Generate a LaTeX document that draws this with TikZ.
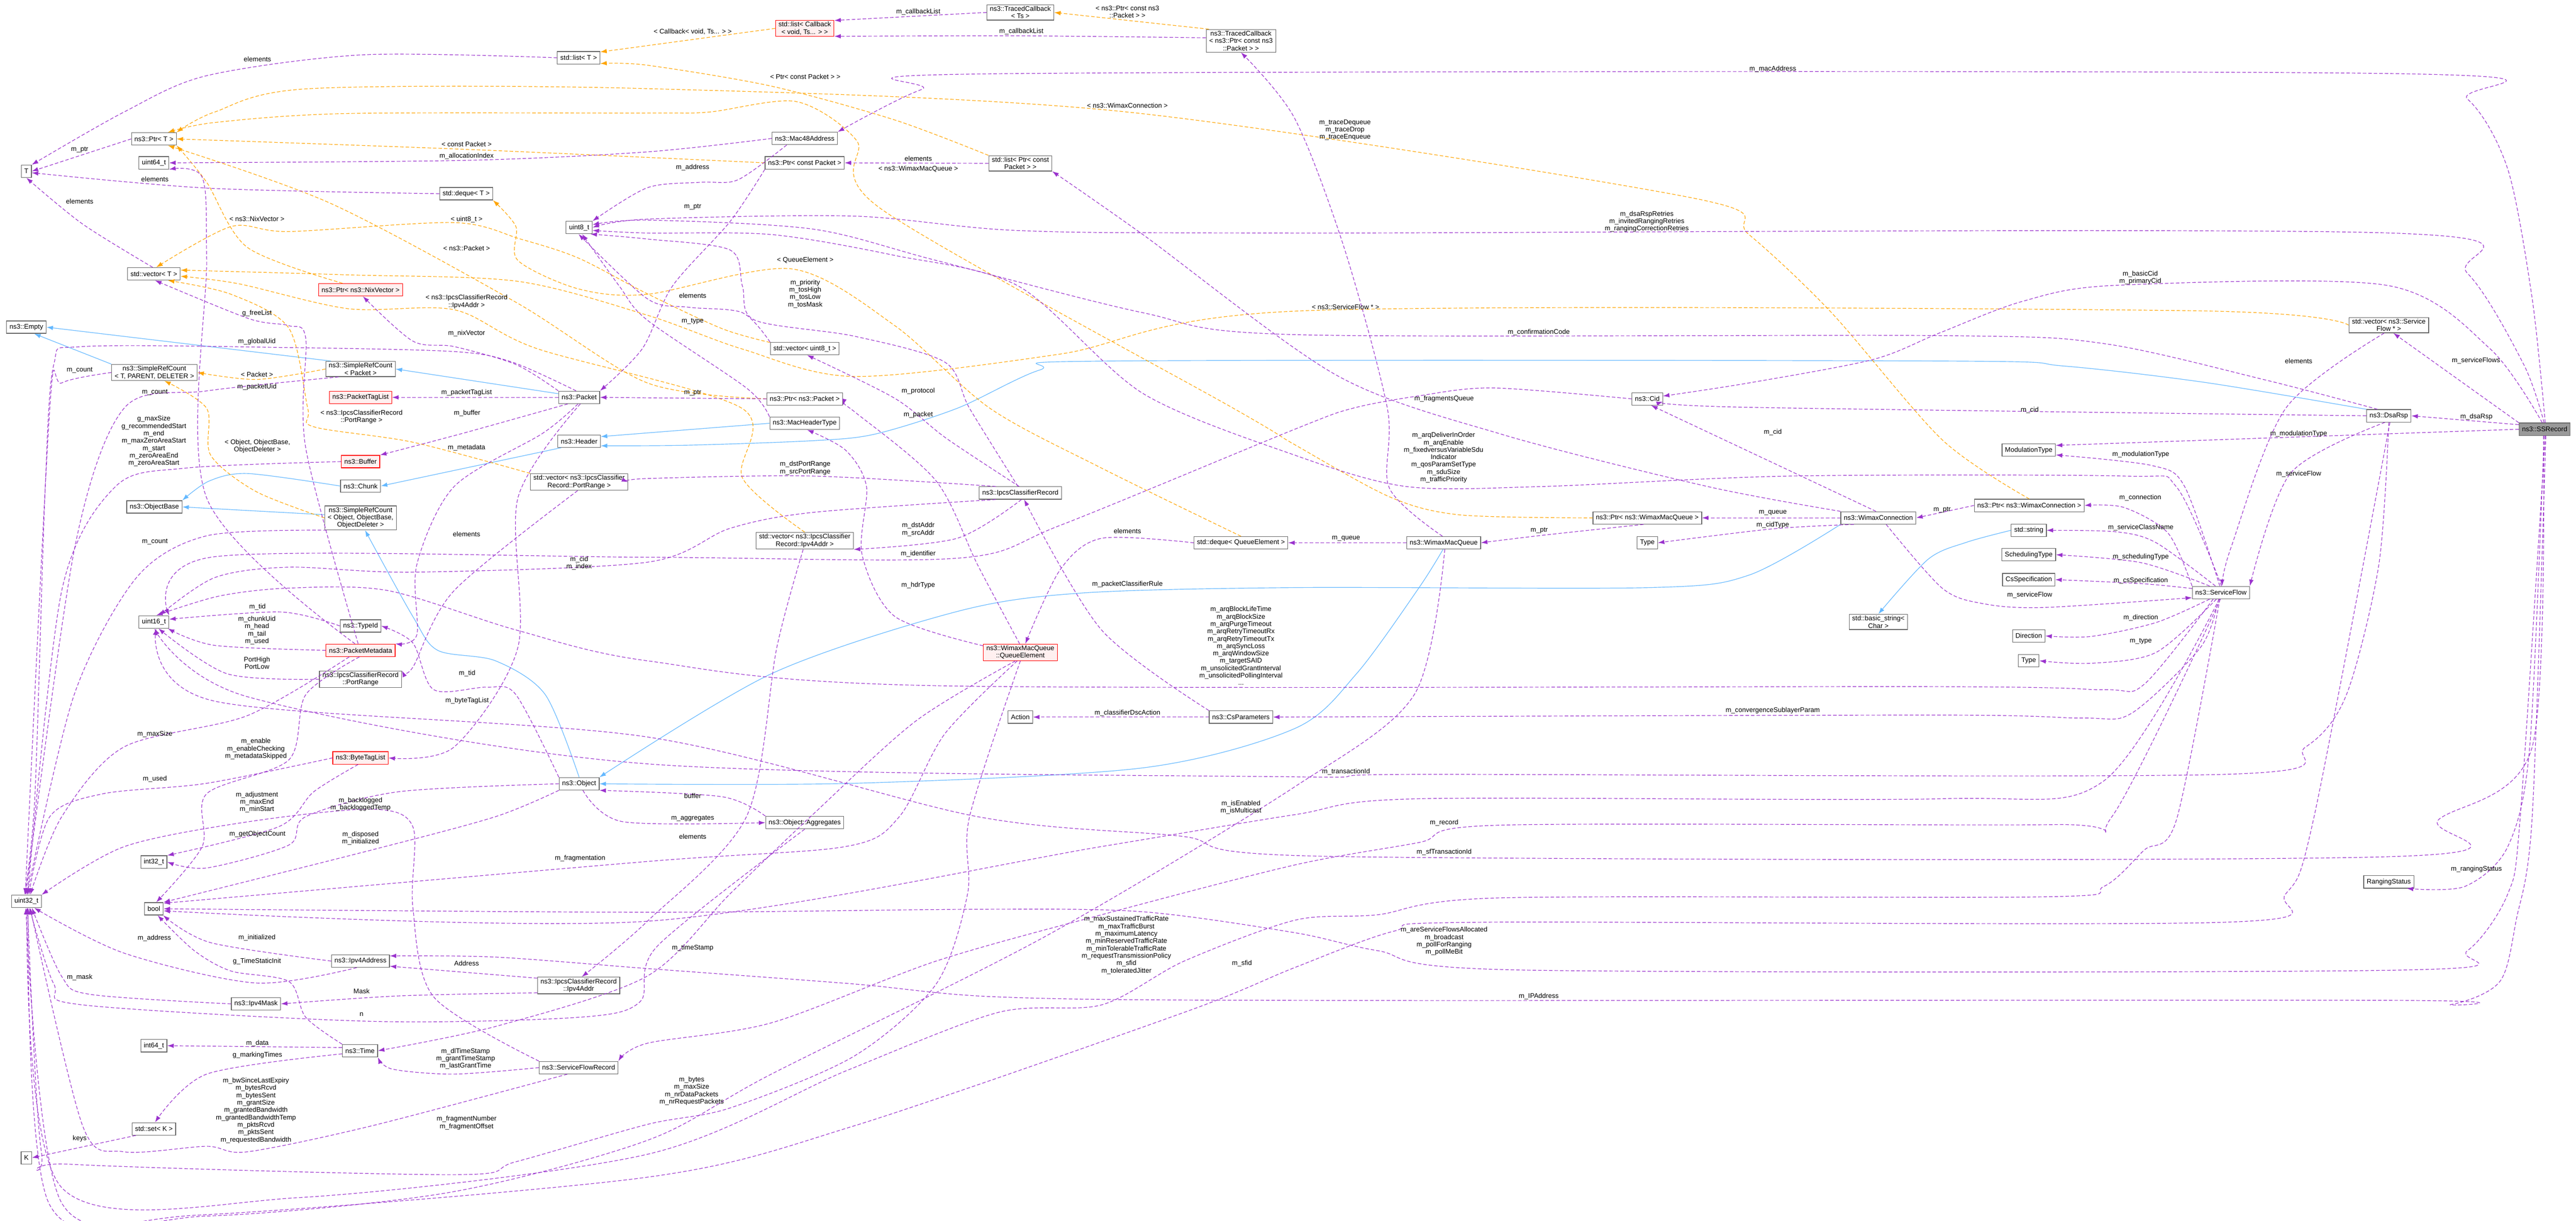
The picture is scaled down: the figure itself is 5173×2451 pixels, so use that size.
\documentclass[tikz,border=0pt]{standalone}
\usepackage{fontspec}
\setmainfont{Liberation Sans}
\usetikzlibrary{arrows.meta}
\definecolor{memc}{HTML}{9A32CD}
\definecolor{tplc}{HTML}{FFA500}
\definecolor{inhc}{HTML}{63B8FF}
\definecolor{boxc}{HTML}{666666}
\definecolor{redfill}{HTML}{FFF0F0}
\definecolor{grayfill}{HTML}{999999}
\newcommand\fs{\fontsize{13.5}{14.8}\selectfont}
\begin{document}
\begin{tikzpicture}[x=1pt,y=-1pt,
 cls/.style={draw=boxc,fill=white,line width=1.3pt,inner xsep=6pt,inner ysep=3pt,minimum height=25pt,font=\fs,align=center},
 redcls/.style={cls,draw=red,fill=redfill},
 graycls/.style={cls,fill=grayfill},
 mem/.style={draw=memc,dash pattern=on 7pt off 4pt,line width=1.2pt,-{Latex[length=13pt,width=9pt]}},
 tpl/.style={draw=tplc,dash pattern=on 7pt off 4pt,line width=1.2pt,-{Latex[length=13pt,width=9pt]}},
 inh/.style={draw=inhc,line width=1.2pt,-{Latex[length=13pt,width=9pt]}},
 lbl/.style={font=\fs,align=center,inner sep=1pt}]
\useasboundingbox (0,0) rectangle (5173,2451);
\fill[white] (0,0) rectangle (5173,2451);
% ---------- nodes
\node[cls] (T) at (53,344) {T};
\node[cls] (listT) at (1162,116) {std::list< T >};
\node[cls] (PtrT) at (309,279) {ns3::Ptr< T >};
\node[cls] (u64) at (309,327) {uint64\_t};
\node[cls] (dequeT) at (936,389) {std::deque< T >};
\node[cls] (u8) at (1163,457) {uint8\_t};
\node[cls] (vecT) at (309,550) {std::vector< T >};
\node[redcls] (PtrNix) at (724,582) {ns3::Ptr< ns3::NixVector >};
\node[cls] (Empty) at (53,657) {ns3::Empty};
\node[cls] (SRCT) at (310,748) {ns3::SimpleRefCount\\< T, PARENT, DELETER >};
\node[cls] (SRCP) at (724,741) {ns3::SimpleRefCount\\< Packet >};
\node[redcls] (PTL) at (724,798) {ns3::PacketTagList};
\node[cls] (Packet) at (1163,798) {ns3::Packet};
\node[redcls] (listCb) at (1616,57) {std::list< Callback\\< void, Ts... > >};
\node[cls] (TCTs) at (2049,25) {ns3::TracedCallback\\< Ts >};
\node[cls] (TCPCP) at (2492,82) {ns3::TracedCallback\\< ns3::Ptr< const ns3\\::Packet > >};
\node[cls] (Mac48) at (1616,278) {ns3::Mac48Address};
\node[cls] (PtrCP) at (1616,327) {ns3::Ptr< const Packet >};
\node[cls] (listPCP) at (2049,328) {std::list< Ptr< const\\Packet > >};
\node[cls] (vecU8) at (1616,700) {std::vector< uint8\_t >};
\node[cls] (PtrP) at (1616,801) {ns3::Ptr< ns3::Packet >};
\node[cls] (Cid) at (3308,801) {ns3::Cid};
\node[cls] (vecSF) at (4797,653) {std::vector< ns3::Service\\Flow * >};
\node[redcls] (Buffer) at (724,927) {ns3::Buffer};
\node[cls] (Header) at (1163,886) {ns3::Header};
\node[cls] (vecPR) at (1163,968) {std::vector< ns3::IpcsClassifier\\Record::PortRange >};
\node[cls] (Chunk) at (724,976) {ns3::Chunk};
\node[cls] (ObjBase) at (310,1018) {ns3::ObjectBase};
\node[cls] (SRCO) at (724,1040) {ns3::SimpleRefCount\\< Object, ObjectBase,\\ObjectDeleter >};
\node[cls] (u16) at (309,1249) {uint16\_t};
\node[cls] (TypeId) at (724,1257) {ns3::TypeId};
\node[redcls] (PM) at (724,1306) {ns3::PacketMetadata};
\node[cls] (PR) at (724,1364) {ns3::IpcsClassifierRecord\\::PortRange};
\node[redcls] (BTL) at (724,1522) {ns3::ByteTagList};
\node[cls] (Object) at (1163,1574) {ns3::Object};
\node[cls] (MHT) at (1616,850) {ns3::MacHeaderType};
\node[cls] (IpcsCR) at (2049,990) {ns3::IpcsClassifierRecord};
\node[cls] (vecIA) at (1616,1086) {std::vector< ns3::IpcsClassifier\\Record::Ipv4Addr >};
\node[cls] (dequeQE) at (2492,1090) {std::deque< QueueElement >};
\node[redcls] (QE) at (2049,1310) {ns3::WimaxMacQueue\\::QueueElement};
\node[cls] (Action) at (2049,1440) {Action};
\node[cls] (CsP) at (2492,1440) {ns3::CsParameters};
\node[cls] (PtrWMQ) at (3308,1040) {ns3::Ptr< ns3::WimaxMacQueue >};
\node[cls] (WC) at (3772,1040) {ns3::WimaxConnection};
\node[cls] (WMQ) at (2899,1090) {ns3::WimaxMacQueue};
\node[cls] (TypeA) at (3308,1090) {Type};
\node[cls] (bstr) at (3772,1249) {std::basic\_string<\\Char >};
\node[cls] (DsaRsp) at (4797,835) {ns3::DsaRsp};
\node[graycls] (SSR) at (5110,862) {ns3::SSRecord};
\node[cls] (ModT) at (4074,904) {ModulationType};
\node[cls] (PtrWC) at (4075,1015) {ns3::Ptr< ns3::WimaxConnection >};
\node[cls] (stdstr) at (4074,1065) {std::string};
\node[cls] (SchedT) at (4074,1114) {SchedulingType};
\node[cls] (CsSpec) at (4074,1164) {CsSpecification};
\node[cls] (SF) at (4460,1190) {ns3::ServiceFlow};
\node[cls] (Dir) at (4074,1277) {Direction};
\node[cls] (TypeB) at (4074,1327) {Type};
\node[cls] (RS) at (4797,1771) {RangingStatus};
\node[cls] (u32) at (53,1810) {uint32\_t};
\node[cls] (i32) at (309,1731) {int32\_t};
\node[cls] (boolN) at (309,1825) {bool};
\node[cls] (Ipv4A) at (724,1930) {ns3::Ipv4Address};
\node[cls] (Ipv4Addr) at (1162,1979) {ns3::IpcsClassifierRecord\\::Ipv4Addr};
\node[cls] (Ipv4M) at (514,2016) {ns3::Ipv4Mask};
\node[cls] (i64) at (309,2100) {int64\_t};
\node[cls] (Time) at (723,2110) {ns3::Time};
\node[cls] (SFR) at (1162,2144) {ns3::ServiceFlowRecord};
\node[cls] (setK) at (309,2267) {std::set< K >};
\node[cls] (K) at (53,2325) {K};
\node[cls] (Aggr) at (1616,1652) {ns3::Object::Aggregates};
% ---------- inheritance
\draw[inh] (SRCP.165) -- (Empty.east);
\draw[inh] (SRCT.north west) -- (Empty.-40);
\draw[inh] (Packet.170) -- (SRCP.east);
\draw[inh] plot[smooth] coordinates {(Chunk.west) (498,951) (420,966) (ObjBase.north east)};
\draw[inh] (SRCO.175) -- (ObjBase.east);
\draw[inh] (Header.200) -- (Chunk.east);
\draw[inh] (MHT.west) -- (Header.12);
\draw[inh] plot[smooth] coordinates {(DsaRsp.north west) (4428,768) (4144,735) (3900,725) (2230,725) (2088,743) (1922,820) (1756,872) (1632,885) (1383,894) (Header.-12)};
\draw[inh] plot[smooth] coordinates {(Object.north) (1095,1395) (995,1327) (879,1306) (829,1238) (SRCO.-70)};
\draw[inh] plot[smooth] coordinates {(WC.south west) (3512,1155) (3313,1180) (2600,1180) (2171,1191) (1922,1228) (1549,1353) (Object.north east)};
\draw[inh] plot[smooth] coordinates {(WMQ.-95) (2849,1181) (2724,1353) (2600,1463) (2295,1542) (1715,1573) (Object.east)};
\draw[inh] plot[smooth] coordinates {(stdstr.west) (3949,1089) (3872,1123) (bstr.north)};
% ---------- template instances
\draw[tpl] (listCb.west) -- (listT.15);
\draw[tpl] plot[smooth] coordinates {(listPCP.north west) (1797,241) (1549,173) (1300,131) (listT.-15)};
\draw[tpl] (TCPCP.160) -- (TCTs.east);
\draw[tpl] plot[smooth] coordinates {(PtrCP.west) (937,300) (PtrT.east)};
\draw[tpl] plot[smooth] coordinates {(PtrWC.north) (3900,883) (3678,628) (3512,471) (3396,397) (2264,225) (1300,178) (622,178) (431,225) (PtrT.north east)};
\draw[tpl] plot[smooth] coordinates {(PtrWMQ.west) (2932,1034) (2791,998) (2600,893) (2477,820) (1770,420) (1720,282) (1599,204) (1424,225) (1300,227) (696,228) (431,246) (PtrT.25)};
\draw[tpl] plot[smooth] coordinates {(PtrP.west) (1300,769) (1036,607) (663,408) (PtrT.-25)};
\draw[tpl] plot[smooth] coordinates {(PtrNix.160) (497,497) (415,366) (PtrT.south east)};
\draw[tpl] plot[smooth] coordinates {(vecU8.170) (1450,660) (1300,590) (1161,518) (1045,480) (912,447) (580,465) (464,455) (vecT.70)};
\draw[tpl] plot[smooth] coordinates {(vecPR.north west) (829,888) (630,857) (618,820) (580,659) (464,591) (vecT.-25)};
\draw[tpl] plot[smooth] coordinates {(vecIA.north) (1491,960) (1490,820) (1078,700) (912,622) (700,620) (480,570) (vecT.-5)};
\draw[tpl] plot[smooth] coordinates {(vecSF.west) (4400,624) (2620,624) (2129,711) (1715,756) (1491,701) (1300,633) (1040,565) (700,552) (vecT.8)};
\draw[tpl] plot[smooth] coordinates {(dequeQE.north) (2212,940) (1988,820) (1797,654) (1590,540) (1300,591) (1161,580) (1040,523) (1036,455) (dequeT.south east)};
\draw[tpl] plot[smooth] coordinates {(SRCP.west) (516,762) (SRCT.east)};
\draw[tpl] plot[smooth] coordinates {(SRCO.west) (514,987) (423,914) (415,820) (SRCT.-40)};
% ---------- members
\draw[mem] plot[smooth] coordinates {(listT.west) (730,110) (415,152) (249,225) (T.north east)};
\draw[mem] (PtrT.west) -- (T.east);
\draw[mem] plot[smooth] coordinates {(dequeT.west) (420,378) (T.-15)};
\draw[mem] plot[smooth] coordinates {(vecT.100) (166,450) (T.south)};
\draw[mem] plot[smooth] coordinates {(Mac48.west) (1300,305) (937,322) (u64.east)};
\draw[mem] plot[smooth] coordinates {(Mac48.200) (1482,361) (1408,366) (1300,377) (u8.north east)};
\draw[mem] plot[smooth] coordinates {(PM.130) (415,1000) (415,523) (406,356) (u64.south east)};
\draw[mem] (Packet.west) -- (PTL.east);
\draw[mem] plot[smooth] coordinates {(Packet.210) (930,870) (Buffer.north east)};
\draw[mem] plot[smooth] coordinates {(Packet.-100) (1090,870) (912,977) (837,1134) (837,1275) (PM.north east)};
\draw[mem] plot[smooth] coordinates {(Packet.-80) (1040,1000) (1040,1300) (912,1500) (BTL.east)};
\draw[mem] plot[smooth] coordinates {(Packet.north west) (1036,732) (912,696) (829,685) (PtrNix.-70)};
\draw[mem] plot[smooth] coordinates {(Packet.115) (1028,727) (912,706) (580,698) (166,696) (108,732) (90,1000) (70,1600) (u32.105)};
\draw[mem] (PtrP.west) -- (Packet.east);
\draw[mem] plot[smooth] coordinates {(PtrCP.south west) (1466,445) (1350,575) (1290,700) (Packet.north east)};
\draw[mem] (listPCP.west) -- (PtrCP.east);
\draw[mem] (TCTs.west) -- (listCb.15);
\draw[mem] plot[smooth] coordinates {(TCPCP.175) (2051,72) (listCb.-15)};
\draw[mem] plot[smooth] coordinates {(WMQ.100) (2790,980) (2786,820) (2700,500) (2600,238) (TCPCP.south)};
\draw[mem] (WMQ.west) -- (dequeQE.east);
\draw[mem] plot[smooth] coordinates {(PtrWMQ.-120) (3097,1075) (WMQ.east)};
\draw[mem] (WC.west) -- (PtrWMQ.east);
\draw[mem] plot[smooth] coordinates {(WC.-165) (3560,1062) (TypeA.east)};
\draw[mem] (WC.110) -- (Cid.-60);
\draw[mem] plot[smooth] coordinates {(WC.north west) (3429,977) (3015,872) (2683,753) (2295,471) (listPCP.south east)};
\draw[mem] plot[smooth] coordinates {(WC.-40) (3900,1181) (3981,1212) (4103,1220) (SF.190)};
\draw[mem] (PtrWC.west) -- (WC.east);
\draw[mem] plot[smooth] coordinates {(SF.north west) (4354,1071) (4265,1019) (PtrWC.east)};
\draw[mem] plot[smooth] coordinates {(SF.100) (4387,977) (4322,935) (ModT.-10)};
\draw[mem] (SSR.west) -- (ModT.10);
\draw[mem] plot[smooth] coordinates {(SF.130) (4330,1090) (4250,1068) (stdstr.east)};
\draw[mem] plot[smooth] coordinates {(SF.150) (4300,1130) (SchedT.east)};
\draw[mem] plot[smooth] coordinates {(SF.172) (4300,1172) (CsSpec.east)};
\draw[mem] plot[smooth] coordinates {(SF.-150) (4330,1250) (4200,1278) (Dir.east)};
\draw[mem] plot[smooth] coordinates {(SF.-125) (4330,1310) (4200,1332) (TypeB.east)};
\draw[mem] plot[smooth] coordinates {(DsaRsp.-120) (4600,950) (SF.north east)};
\draw[mem] plot[smooth] coordinates {(vecSF.-120) (4590,820) (4480,1100) (SF.80)};
\draw[mem] (SSR.north west) -- (vecSF.-60);
\draw[mem] (SSR.170) -- (DsaRsp.east);
\draw[mem] plot[smooth] coordinates {(DsaRsp.west) (3512,818) (Cid.-10)};
\draw[mem] plot[smooth] coordinates {(SSR.85) (5085,600) (5036,340) (4955,199) (4817,148) (2013,148) (1850,180) (Mac48.north east)};
\draw[mem] plot[smooth] coordinates {(SSR.95) (5068,732) (4955,549) (4801,468) (2600,468) (2046,463) (1715,434) (1300,440) (u8.east)};
\draw[mem] plot[smooth] coordinates {(SSR.110) (5000,700) (4793,573) (4249,573) (4062,605) (3894,669) (3761,722) (3512,769) (Cid.10)};
\draw[mem] plot[smooth] coordinates {(SSR.-95) (5080,1500) (5036,1700) (4950,1780) (RS.-20)};
\draw[mem] plot[smooth] coordinates {(SSR.-100) (5085,1500) (4898,1645) (4809,1720) (2683,1720) (2370,1679) (1963,1640) (1300,1480) (431,1408) (u16.-70)};
\draw[mem] plot[smooth] coordinates {(SSR.-85) (5061,1640) (5036,1795) (4955,1909) (4825,1948) (3056,1948) (2766,1909) (2600,1873) (2295,1831) (1963,1826) (1300,1832) (boolN.east)};
\draw[mem] plot[smooth] coordinates {(SSR.-80) (5085,1640) (5053,1847) (5020,1971) (4923,2017) (4809,2009) (2600,2009) (2005,2002) (1715,1976) (1300,1945) (995,1922) (Ipv4A.10)};
\draw[mem] plot[smooth] coordinates {(DsaRsp.150) (4549,763) (4225,690) (3900,674) (2600,672) (2295,628) (1880,523) (1632,460) (1300,442) (u8.12)};
\draw[mem] plot[smooth] coordinates {(SF.85) (4370,977) (4265,956) (3595,956) (3097,977) (2824,977) (2600,914) (2295,790) (2046,575) (1797,513) (1549,471) (1300,468) (u8.-12)};
\draw[mem] plot[smooth] coordinates {(MHT.north west) (1500,780) (1300,643) (1244,575) (u8.-65)};
\draw[mem] plot[smooth] coordinates {(vecU8.north west) (1491,628) (1383,617) (1300,600) (u8.-95)};
\draw[mem] plot[smooth] coordinates {(IpcsCR.110) (1947,820) (1897,727) (1715,675) (1516,643) (1491,575) (1466,502) (1300,480) (u8.-30)};
\draw[mem] plot[smooth] coordinates {(IpcsCR.100) (1900,880) (1797,800) (vecU8.-70)};
\draw[mem] plot[smooth] coordinates {(IpcsCR.165) (1632,956) (1300,961) (vecPR.east)};
\draw[mem] plot[smooth] coordinates {(IpcsCR.-80) (1922,1081) (vecIA.-10)};
\draw[mem] plot[smooth] coordinates {(IpcsCR.195) (1632,1029) (1466,1061) (1300,1129) (829,1149) (580,1139) (431,1160) (u16.50)};
\draw[mem] plot[smooth] coordinates {(Cid.west) (2998,779) (2849,795) (2716,820) (2600,862) (2129,1055) (1922,1121) (1300,1119) (431,1118) (u16.north east)};
\draw[mem] plot[smooth] coordinates {(PR.west) (456,1353) (u16.-55)};
\draw[mem] plot[smooth] coordinates {(PM.west) (431,1296) (u16.-25)};
\draw[mem] plot[smooth] coordinates {(TypeId.west) (564,1229) (u16.10)};
\draw[mem] plot[smooth] coordinates {(vecPR.-100) (912,1186) (829,1340) (PR.north east)};
\draw[mem] plot[smooth] coordinates {(Object.north west) (1036,1395) (978,1380) (871,1385) (829,1291) (TypeId.east)};
\draw[mem] plot[smooth] coordinates {(SF.-140) (4306,1374) (4225,1385) (3900,1379) (1880,1377) (1300,1327) (1036,1265) (779,1186) (580,1181) (440,1197) (u16.70)};
\draw[mem] plot[smooth] coordinates {(DsaRsp.-90) (4777,1134) (4712,1395) (4630,1500) (4468,1555) (2849,1555) (2600,1560) (1300,1534) (500,1400) (u16.-85)};
\draw[mem] plot[smooth] coordinates {(SF.-110) (4419,1300) (4281,1432) (4184,1442) (3900,1436) (CsP.east)};
\draw[mem] (CsP.west) -- (Action.east);
\draw[mem] plot[smooth] coordinates {(CsP.north west) (2212,1265) (IpcsCR.-60)};
\draw[mem] plot[smooth] coordinates {(dequeQE.west) (2212,1081) (2129,1144) (QE.60)};
\draw[mem] plot[smooth] coordinates {(QE.170) (1797,1238) (1731,1113) (1740,977) (1698,904) (MHT.-70)};
\draw[mem] plot[smooth] coordinates {(QE.95) (1963,1134) (1880,966) (1720,830) (PtrP.south east)};
\draw[mem] plot[smooth] coordinates {(QE.-120) (1839,1448) (1632,1636) (1466,1795) (1300,1960) (1000,2060) (Time.east)};
\draw[mem] plot[smooth] coordinates {(QE.-110) (1897,1474) (1806,1640) (1698,1700) (1300,1730) (boolN.30)};
\draw[mem] plot[smooth] coordinates {(QE.-90) (1947,1640) (1943,1795) (1880,1976) (1715,2121) (1466,2225) (1300,2258) (1036,2333) (912,2359) (141,2338) (83,2312) (u32.-80)};
\draw[mem] plot[smooth] coordinates {(WMQ.-80) (2840,1395) (2600,1580) (2100,1880) (1549,2157) (1300,2290) (900,2395) (415,2442) (124,2416) (u32.-95)};
\draw[mem] plot[smooth] coordinates {(SF.-100) (4371,1645) (4306,1707) (4225,1780) (4103,1801) (3015,1803) (2766,1837) (2600,1848) (2378,1930) (2212,2018) (2005,2033) (1700,2150) (1300,2318) (600,2405) (124,2385) (u32.-85)};
\draw[mem] plot[smooth] coordinates {(DsaRsp.-80) (4647,1640) (4590,1795) (4468,1852) (2973,1852) (2799,1870) (2600,1943) (2378,2033) (1715,2261) (1300,2364) (400,2440) (100,2420) (u32.-75)};
\draw[mem] plot[smooth] coordinates {(SF.-95) (4241,1640) (4127,1656) (3015,1657) (2849,1692) (2600,1737) (2212,1837) (1880,1930) (1549,2054) (1300,2095) (SFR.north east)};
\draw[mem] plot[smooth] coordinates {(SF.-105) (4225,1568) (3900,1604) (2849,1604) (2600,1636) (2212,1700) (1300,1850) (boolN.-12)};
\draw[mem] plot[smooth] coordinates {(SFR.west) (912,2157) (788,2147) (Time.south east)};
\draw[mem] plot[smooth] coordinates {(SFR.-150) (746,2261) (497,2313) (415,2302) (249,2313) (166,2261) (u32.-60)};
\draw[mem] plot[smooth] coordinates {(SFR.north west) (871,2002) (829,1821) (829,1660) (746,1625) (500,1650) (250,1700) (u32.north east)};
\draw[mem] (Time.170) -- (i64.east);
\draw[mem] plot[smooth] coordinates {(Time.190) (415,2157) (setK.80)};
\draw[mem] plot[smooth] coordinates {(Time.north west) (614,2043) (580,1971) (464,1950) (390,1909) (boolN.-60)};
\draw[mem] (setK.200) -- (K.east);
\draw[mem] plot[smooth] coordinates {(Ipv4A.west) (423,1893) (boolN.-35)};
\draw[mem] plot[smooth] coordinates {(Ipv4A.-120) (514,1974) (249,1914) (u32.-40)};
\draw[mem] (Ipv4Addr.170) -- (Ipv4A.-10);
\draw[mem] plot[smooth] coordinates {(Ipv4Addr.190) (800,2000) (Ipv4M.east)};
\draw[mem] plot[smooth] coordinates {(Ipv4M.west) (182,1997) (124,1961) (u32.-50)};
\draw[mem] plot[smooth] coordinates {(vecIA.-100) (1560,1300) (1499,1640) (1300,1850) (Ipv4Addr.70)};
\draw[mem] plot[smooth] coordinates {(Aggr.north west) (1450,1600) (Object.south east)};
\draw[mem] plot[smooth] coordinates {(Object.-60) (1250,1650) (Aggr.west)};
\draw[mem] plot[smooth] coordinates {(Aggr.south) (1320,1900) (1285,2012) (1161,2043) (746,2051) (166,2018) (108,1976) (u32.-65)};
\draw[mem] plot[smooth] coordinates {(Object.south west) (995,1640) (746,1707) (boolN.north east)};
\draw[mem] plot[smooth] coordinates {(Object.west) (800,1590) (614,1640) (580,1697) (415,1743) (i32.east)};
\draw[mem] plot[smooth] coordinates {(BTL.-110) (630,1590) (560,1660) (i32.north east)};
\draw[mem] plot[smooth] coordinates {(BTL.west) (415,1573) (207,1594) (100,1640) (u32.70)};
\draw[mem] plot[smooth] coordinates {(PM.-150) (497,1437) (249,1500) (124,1640) (u32.60)};
\draw[mem] plot[smooth] coordinates {(PM.-100) (614,1395) (580,1526) (415,1594) (406,1700) (boolN.70)};
\draw[mem] plot[smooth] coordinates {(Buffer.west) (373,940) (232,977) (124,1186) (u32.80)};
\draw[mem] plot[smooth] coordinates {(SRCT.west) (124,769) (100,820) (u32.100)};
\draw[mem] plot[smooth] coordinates {(SRCO.200) (415,1076) (274,1160) (149,1395) (u32.85)};
\draw[mem] plot[smooth] coordinates {(SRCP.200) (415,785) (249,820) (150,1100) (u32.95)};
\draw[mem] plot[smooth] coordinates {(PM.110) (614,900) (614,680) (580,654) (500,640) (vecT.-80)};
% ---------- labels
\node[lbl] at (517,119) {elements};
\node[lbl] at (160,301) {m\_ptr};
\node[lbl] at (937,290) {< const Packet >};
\node[lbl] at (937,314) {m\_allocationIndex};
\node[lbl] at (311,360) {elements};
\node[lbl] at (160,404) {elements};
\node[lbl] at (516,440) {< ns3::NixVector >};
\node[lbl] at (937,441) {< uint8\_t >};
\node[lbl] at (937,498) {< ns3::Packet >};
\node[lbl] at (937,606) {< ns3::IpcsClassifierRecord\\::Ipv4Addr >};
\node[lbl] at (516,629) {g\_freeList};
\node[lbl] at (937,669) {m\_nixVector};
\node[lbl] at (516,686) {m\_globalUid};
\node[lbl] at (160,743) {m\_count};
\node[lbl] at (516,752) {< Packet >};
\node[lbl] at (516,777) {m\_packetUid};
\node[lbl] at (311,788) {m\_count};
\node[lbl] at (937,789) {m\_packetTagList};
\node[lbl] at (1391,64) {< Callback< void, Ts... > >};
\node[lbl] at (1844,24) {m\_callbackList};
\node[lbl] at (2264,24) {< ns3::Ptr< const ns3\\::Packet > >};
\node[lbl] at (2051,63) {m\_callbackList};
\node[lbl] at (1617,154) {< Ptr< const Packet > >};
\node[lbl] at (2264,212) {< ns3::WimaxConnection >};
\node[lbl] at (1391,336) {m\_address};
\node[lbl] at (1844,319) {elements};
\node[lbl] at (1844,339) {< ns3::WimaxMacQueue >};
\node[lbl] at (1391,416) {m\_ptr};
\node[lbl] at (1617,522) {< QueueElement >};
\node[lbl] at (1617,590) {m\_priority\\m\_tosHigh\\m\_tosLow\\m\_tosMask};
\node[lbl] at (1391,594) {elements};
\node[lbl] at (1391,645) {m\_type};
\node[lbl] at (1844,785) {m\_protocol};
\node[lbl] at (1391,789) {m\_ptr};
\node[lbl] at (3560,139) {m\_macAddress};
\node[lbl] at (2701,261) {m\_traceDequeue\\m\_traceDrop\\m\_traceEnqueue};
\node[lbl] at (3307,445) {m\_dsaRspRetries\\m\_invitedRangingRetries\\m\_rangingCorrectionRetries};
\node[lbl] at (2702,616) {< ns3::ServiceFlow * >};
\node[lbl] at (3090,667) {m\_confirmationCode};
\node[lbl] at (2900,801) {m\_fragmentsQueue};
\node[lbl] at (4298,558) {m\_basicCid\\m\_primaryCid};
\node[lbl] at (4616,725) {elements};
\node[lbl] at (4972,724) {m\_serviceFlows};
\node[lbl] at (309,886) {g\_maxSize\\g\_recommendedStart\\m\_end\\m\_maxZeroAreaStart\\m\_start\\m\_zeroAreaEnd\\m\_zeroAreaStart};
\node[lbl] at (726,837) {< ns3::IpcsClassifierRecord\\::PortRange >};
\node[lbl] at (938,830) {m\_buffer};
\node[lbl] at (517,896) {< Object, ObjectBase,\\ObjectDeleter >};
\node[lbl] at (937,899) {m\_metadata};
\node[lbl] at (311,1088) {m\_count};
\node[lbl] at (937,1073) {elements};
\node[lbl] at (1163,1131) {m\_cid\\m\_index};
\node[lbl] at (517,1219) {m\_tid};
\node[lbl] at (516,1266) {m\_chunkUid\\m\_head\\m\_tail\\m\_used};
\node[lbl] at (516,1331) {PortHigh\\PortLow};
\node[lbl] at (938,1352) {m\_tid};
\node[lbl] at (938,1407) {m\_byteTagList};
\node[lbl] at (311,1474) {m\_maxSize};
\node[lbl] at (514,1504) {m\_enable\\m\_enableChecking\\m\_metadataSkipped};
\node[lbl] at (311,1564) {m\_used};
\node[lbl] at (516,1611) {m\_adjustment\\m\_maxEnd\\m\_minStart};
\node[lbl] at (724,1615) {m\_backlogged\\m\_backloggedTemp};
\node[lbl] at (1844,833) {m\_packet};
\node[lbl] at (1617,940) {m\_dstPortRange\\m\_srcPortRange};
\node[lbl] at (1844,1063) {m\_dstAddr\\m\_srcAddr};
\node[lbl] at (2264,1067) {elements};
\node[lbl] at (1844,1112) {m\_identifier};
\node[lbl] at (1844,1175) {m\_hdrType};
\node[lbl] at (2264,1173) {m\_packetClassifierRule};
\node[lbl] at (2492,1297) {m\_arqBlockLifeTime\\m\_arqBlockSize\\m\_arqPurgeTimeout\\m\_arqRetryTimeoutRx\\m\_arqRetryTimeoutTx\\m\_arqSyncLoss\\m\_arqWindowSize\\m\_targetSAID\\m\_unsolicitedGrantInterval\\m\_unsolicitedPollingInterval\\...};
\node[lbl] at (2264,1432) {m\_classifierDscAction};
\node[lbl] at (1391,1598) {buffer};
\node[lbl] at (2492,1621) {m\_isEnabled\\m\_isMulticast};
\node[lbl] at (2899,919) {m\_arqDeliverInOrder\\m\_arqEnable\\m\_fixedversusVariableSdu\\Indicator\\m\_qosParamSetType\\m\_sduSize\\m\_trafficPriority};
\node[lbl] at (3560,868) {m\_cid};
\node[lbl] at (3560,1030) {m\_queue};
\node[lbl] at (3560,1054) {m\_cidType};
\node[lbl] at (3091,1065) {m\_ptr};
\node[lbl] at (2703,1081) {m\_queue};
\node[lbl] at (3560,1427) {m\_convergenceSublayerParam};
\node[lbl] at (2703,1550) {m\_transactionId};
\node[lbl] at (4076,824) {m\_cid};
\node[lbl] at (4973,837) {m\_dsaRsp};
\node[lbl] at (4616,871) {m\_modulationType};
\node[lbl] at (4299,913) {m\_modulationType};
\node[lbl] at (4616,952) {m\_serviceFlow};
\node[lbl] at (4298,999) {m\_connection};
\node[lbl] at (3900,1024) {m\_ptr};
\node[lbl] at (4299,1060) {m\_serviceClassName};
\node[lbl] at (4299,1119) {m\_schedulingType};
\node[lbl] at (4299,1166) {m\_csSpecification};
\node[lbl] at (4076,1195) {m\_serviceFlow};
\node[lbl] at (4299,1241) {m\_direction};
\node[lbl] at (4299,1288) {m\_type};
\node[lbl] at (517,1675) {m\_getObjectCount};
\node[lbl] at (724,1683) {m\_disposed\\m\_initialized};
\node[lbl] at (1165,1724) {m\_fragmentation};
\node[lbl] at (310,1884) {m\_address};
\node[lbl] at (516,1883) {m\_initialized};
\node[lbl] at (516,1931) {g\_TimeStaticInit};
\node[lbl] at (937,1935) {Address};
\node[lbl] at (160,1963) {m\_mask};
\node[lbl] at (726,1990) {Mask};
\node[lbl] at (726,2037) {n};
\node[lbl] at (517,2095) {m\_data};
\node[lbl] at (517,2119) {g\_markingTimes};
\node[lbl] at (935,2126) {m\_dlTimeStamp\\m\_grantTimeStamp\\m\_lastGrantTime};
\node[lbl] at (514,2230) {m\_bwSinceLastExpiry\\m\_bytesRcvd\\m\_bytesSent\\m\_grantSize\\m\_grantedBandwidth\\m\_grantedBandwidthTemp\\m\_pktsRcvd\\m\_pktsSent\\m\_requestedBandwidth};
\node[lbl] at (160,2287) {keys};
\node[lbl] at (937,2255) {m\_fragmentNumber\\m\_fragmentOffset};
\node[lbl] at (1391,1644) {m\_aggregates};
\node[lbl] at (1391,1680) {elements};
\node[lbl] at (1391,1904) {m\_timeStamp};
\node[lbl] at (1389,2191) {m\_bytes\\m\_maxSize\\m\_nrDataPackets\\m\_nrRequestPackets};
\node[lbl] at (2262,1898) {m\_maxSustainedTrafficRate\\m\_maxTrafficBurst\\m\_maximumLatency\\m\_minReservedTrafficRate\\m\_minTolerableTrafficRate\\m\_requestTransmissionPolicy\\m\_sfid\\m\_toleratedJitter};
\node[lbl] at (2494,1935) {m\_sfid};
\node[lbl] at (2900,1652) {m\_record};
\node[lbl] at (2900,1711) {m\_sfTransactionId};
\node[lbl] at (2900,1890) {m\_areServiceFlowsAllocated\\m\_broadcast\\m\_pollForRanging\\m\_pollMeBit};
\node[lbl] at (3090,2001) {m\_IPAddress};
\node[lbl] at (4973,1745) {m\_rangingStatus};
\end{tikzpicture}
\end{document}
